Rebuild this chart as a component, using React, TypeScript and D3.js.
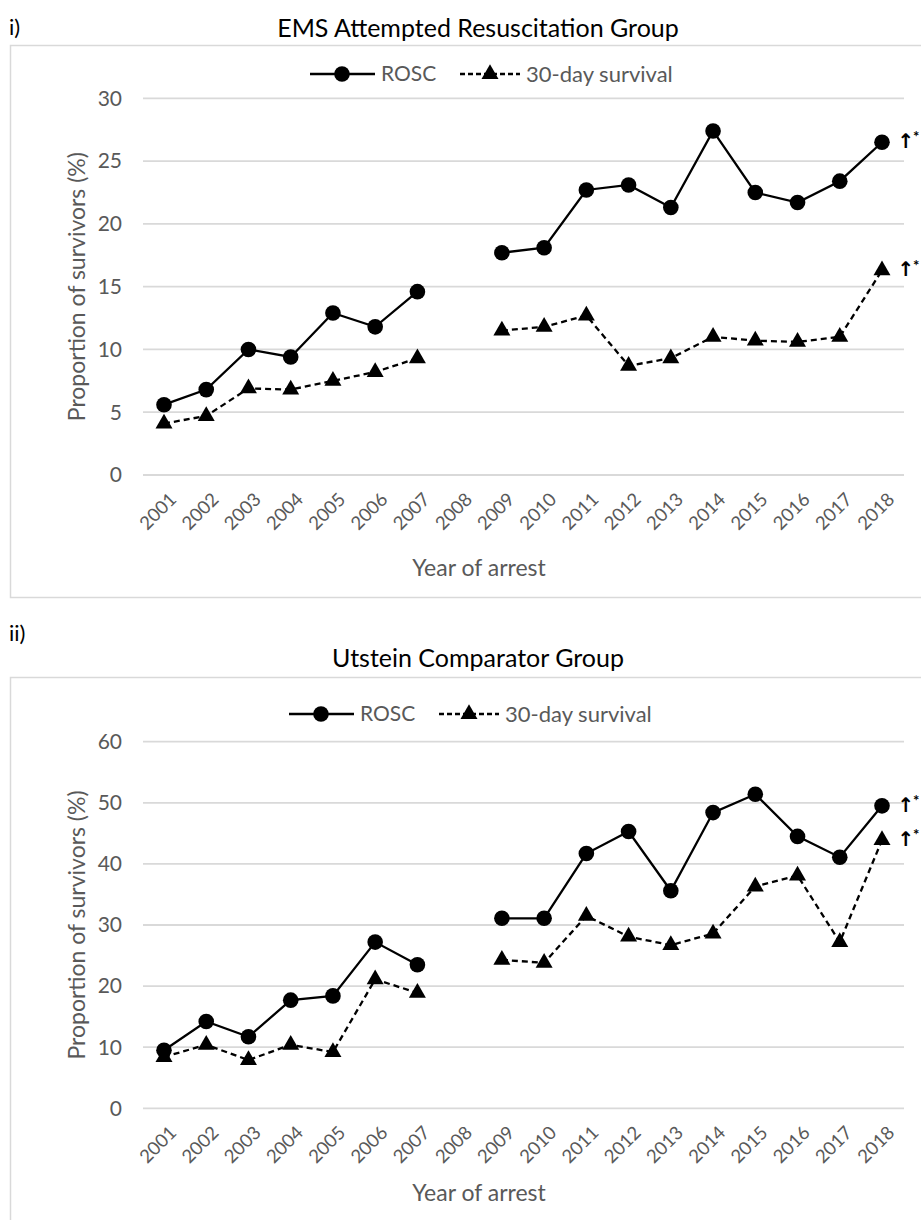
import React, { useRef, useEffect } from 'react';
import * as d3 from 'd3';

// years on the x axis (2008 has no data -> gap in both lines)
const years = ['2001', '2002', '2003', '2004', '2005', '2006', '2007', '2008', '2009',
  '2010', '2011', '2012', '2013', '2014', '2015', '2016', '2017', '2018'];

// i) EMS Attempted Resuscitation Group
const emsRosc = [5.6, 6.8, 10.0, 9.4, 12.9, 11.8, 14.6, null, 17.7, 18.1, 22.7, 23.1, 21.3, 27.4, 22.5, 21.7, 23.4, 26.5];
const emsSurvival = [4.1, 4.7, 6.9, 6.8, 7.5, 8.2, 9.3, null, 11.5, 11.8, 12.7, 8.7, 9.3, 11.0, 10.7, 10.6, 11.0, 16.3];
const emsTicks = [0, 5, 10, 15, 20, 25, 30];

// ii) Utstein Comparator Group
const utsRosc = [9.5, 14.2, 11.7, 17.7, 18.4, 27.2, 23.5, null, 31.1, 31.1, 41.7, 45.3, 35.6, 48.4, 51.4, 44.5, 41.1, 49.5];
const utsSurvival = [8.4, 10.4, 7.9, 10.4, 9.2, 21.1, 18.9, null, 24.3, 23.8, 31.5, 28.1, 26.7, 28.6, 36.3, 38.1, 27.2, 43.9];
const utsTicks = [0, 10, 20, 30, 40, 50, 60];

const FONT = 'Lato, Carlito, "Open Sans", sans-serif';
const GREY = '#595959';
const GRID = '#d9d9d9';

const panels = [
  {
    tag: 'i)', title: 'EMS Attempted Resuscitation Group',
    rosc: emsRosc, survival: emsSurvival, ticks: emsTicks,
    tagY: 27, titleY: 28, frameY: 45, frameH: 552, legendY: 74, legendShift: 0,
    plotTop: 98.3, plotBottom: 475, xTitleY: 568
  },
  {
    tag: 'ii)', title: 'Utstein Comparator Group',
    rosc: utsRosc, survival: utsSurvival, ticks: utsTicks,
    tagY: 633, titleY: 658, frameY: 677, frameH: 600, legendY: 714, legendShift: -21,
    plotTop: 741.7, plotBottom: 1108.3, xTitleY: 1193
  }
];

const App = () => {
  const svgRef = useRef(null);

  useEffect(() => {
    const svg = d3.select(svgRef.current);
    svg.selectAll('*').remove();

    const x = d3.scalePoint().domain(years).range([164, 882]);
    const gridLeft = 143, gridRight = 904;
    const triangle = d3.symbol().type(d3.symbolTriangle).size(125);

    panels.forEach(p => {
      const g = svg.append('g').style('font-family', FONT);

      // frame (runs off the right / bottom edge like the crop)
      g.append('rect')
        .attr('x', 10.5).attr('y', p.frameY + 0.5)
        .attr('width', 1000).attr('height', p.frameH)
        .attr('fill', 'none').attr('stroke', GRID).attr('stroke-width', 1.5);

      g.append('text').attr('x', 9).attr('y', p.tagY).attr('dy', '0.35em')
        .style('font-size', '22px').style('fill', '#000').text(p.tag);

      g.append('text').attr('x', 478).attr('y', p.titleY).attr('dy', '0.35em')
        .attr('text-anchor', 'middle')
        .style('font-size', '25px').style('fill', '#000').text(p.title);

      const maxV = d3.max(p.ticks);
      const y = d3.scaleLinear().domain([0, maxV]).range([p.plotBottom, p.plotTop]);

      // gridlines + y tick labels
      p.ticks.forEach(t => {
        g.append('line')
          .attr('x1', gridLeft).attr('x2', gridRight)
          .attr('y1', y(t)).attr('y2', y(t))
          .attr('stroke', GRID).attr('stroke-width', 1.8);
        g.append('text')
          .attr('x', 122).attr('y', y(t)).attr('dy', '0.35em')
          .attr('text-anchor', 'end')
          .style('font-size', '21px').style('fill', GREY)
          .text(t);
      });

      // x tick labels, rotated
      years.forEach(yr => {
        g.append('text')
          .attr('transform', `translate(${x(yr) + 9},${p.plotBottom + 21}) rotate(-45)`)
          .attr('text-anchor', 'end')
          .attr('dy', '0.35em')
          .style('font-size', '18.5px').style('fill', GREY)
          .text(yr);
      });

      g.append('text').attr('x', 479).attr('y', p.xTitleY).attr('dy', '0.35em')
        .attr('text-anchor', 'middle')
        .style('font-size', '23px').style('fill', GREY).text('Year of arrest');

      const midY = (p.plotTop + p.plotBottom) / 2;
      g.append('text')
        .attr('transform', `translate(77,${midY}) rotate(-90)`)
        .attr('text-anchor', 'middle').attr('dy', '0.35em')
        .style('font-size', '23px').style('fill', GREY)
        .text('Proportion of survivors (%)');

      const line = d3.line()
        .defined(d => d[1] != null)
        .x(d => x(d[0]))
        .y(d => y(d[1]));

      const roscPts = years.map((yr, i) => [yr, p.rosc[i]]);
      const survPts = years.map((yr, i) => [yr, p.survival[i]]);

      g.append('path').attr('d', line(survPts))
        .attr('fill', 'none').attr('stroke', '#000').attr('stroke-width', 2.3)
        .attr('stroke-dasharray', '6,4');
      g.append('path').attr('d', line(roscPts))
        .attr('fill', 'none').attr('stroke', '#000').attr('stroke-width', 2.3);

      g.selectAll('.tri').data(survPts.filter(d => d[1] != null)).join('path')
        .attr('d', triangle)
        .attr('transform', d => `translate(${x(d[0])},${y(d[1])})`)
        .attr('fill', '#000');
      g.selectAll('.dot').data(roscPts.filter(d => d[1] != null)).join('circle')
        .attr('cx', d => x(d[0])).attr('cy', d => y(d[1])).attr('r', 7.8)
        .attr('fill', '#000');

      // significance marks next to the 2018 points
      const last = years[years.length - 1];
      [p.rosc[years.length - 1], p.survival[years.length - 1]].forEach(v => {
        g.append('text').attr('x', x(last) + 24).attr('y', y(v) - 1).attr('dy', '0.35em')
          .attr('text-anchor', 'middle')
          .style('font-size', '20px').style('font-weight', 'bold')
          .style('font-family', '"DejaVu Sans", sans-serif')
          .text('↑');
        g.append('text').attr('x', x(last) + 31).attr('y', y(v) - 5).attr('dy', '0.35em')
          .style('font-size', '15px').style('font-weight', 'bold')
          .text('*');
      });

      // legend
      const ly = p.legendY;
      const lx = p.legendShift;
      g.append('line').attr('x1', 310 + lx).attr('x2', 375 + lx).attr('y1', ly).attr('y2', ly)
        .attr('stroke', '#000').attr('stroke-width', 2.3);
      g.append('circle').attr('cx', 342 + lx).attr('cy', ly).attr('r', 7.8).attr('fill', '#000');
      g.append('text').attr('x', 381 + lx).attr('y', ly).attr('dy', '0.35em')
        .style('font-size', '21px').style('fill', GREY).text('ROSC');

      g.append('line').attr('x1', 460 + lx).attr('x2', 520 + lx).attr('y1', ly).attr('y2', ly)
        .attr('stroke', '#000').attr('stroke-width', 2.3).attr('stroke-dasharray', '5,3');
      g.append('path').attr('d', triangle).attr('transform', `translate(${490 + lx},${ly})`)
        .attr('fill', '#000');
      g.append('text').attr('x', 526 + lx).attr('y', ly).attr('dy', '0.35em')
        .style('font-size', '22px').style('fill', GREY).text('30-day survival');
    });
  }, []);

  return (
    <svg ref={svgRef} width={921} height={1220}
      style={{ position: 'absolute', left: 0, top: 0, background: '#fff' }} />
  );
};

export default App;
